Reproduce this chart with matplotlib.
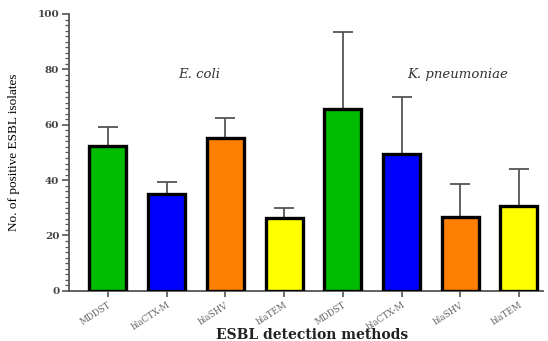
import matplotlib
matplotlib.use("Agg")
import matplotlib.pyplot as plt
import numpy as np
from matplotlib.ticker import MultipleLocator

categories = ["MDDST", "blaCTX-M", "blaSHV", "blaTEM", "MDDST", "blaCTX-M", "blaSHV", "blaTEM"]
values = [52.3, 35.0, 55.2, 26.3, 65.7, 49.5, 26.7, 30.7]
errors = [6.9, 4.3, 7.2, 3.7, 27.8, 20.5, 11.9, 13.3]
colors = ["#00BB00", "#0000FF", "#FF8000", "#FFFF00", "#00BB00", "#0000FF", "#FF8000", "#FFFF00"]

fig = plt.figure(figsize=(5.48, 3.41), dpi=100)
ax = fig.add_axes([0.126, 0.147, 0.865, 0.812])
x = np.arange(len(categories))
ax.bar(x, values, width=0.63, color=colors, edgecolor="black", linewidth=2.4, zorder=3,
       yerr=[np.zeros(len(errors)), errors], error_kw=dict(ecolor="#555555", elinewidth=1.3, capsize=7, capthick=1.3, zorder=2))

ax.set_xlim(-0.66, 7.41)
ax.set_ylim(0, 100)
ax.yaxis.set_major_locator(MultipleLocator(20))
ax.yaxis.set_minor_locator(MultipleLocator(2))
for s in ["top", "right"]:
    ax.spines[s].set_visible(False)
for s in ["left", "bottom"]:
    ax.spines[s].set_color("#555555")
    ax.spines[s].set_linewidth(1.3)
ax.tick_params(axis="y", which="major", length=5, width=1.2, color="#555555", labelsize=8.5, pad=2)
ax.tick_params(axis="y", which="minor", length=3, width=0.9, color="#555555")
ax.tick_params(axis="x", length=4, width=1.2, color="#555555", pad=3)
ax.set_xticks(x)
ax.set_xticklabels(categories, rotation=33, ha="right", rotation_mode="anchor",
                   family="DejaVu Serif", fontsize=6.3, color="#666666")
for lab in ax.get_yticklabels():
    lab.set_family("DejaVu Serif")
    lab.set_fontweight("bold")
    lab.set_fontsize(7.5)
    lab.set_color("#444444")

fig.text(0.57, 0.018, "ESBL detection methods", family="DejaVu Serif", fontweight="bold",
         fontsize=10, ha="center", va="center", color="#222222")
ax.set_ylabel("No. of positive ESBL isolates", family="Liberation Serif", fontsize=9.5, labelpad=13)

ax.text(1.55, 78, "E. coli", style="italic", family="DejaVu Serif", fontsize=9.5, ha="center", va="center", color="#333333")
ax.text(5.95, 78, "K. pneumoniae", style="italic", family="DejaVu Serif", fontsize=9.5, ha="center", va="center", color="#333333")

fig.savefig("out.png", dpi=100)
